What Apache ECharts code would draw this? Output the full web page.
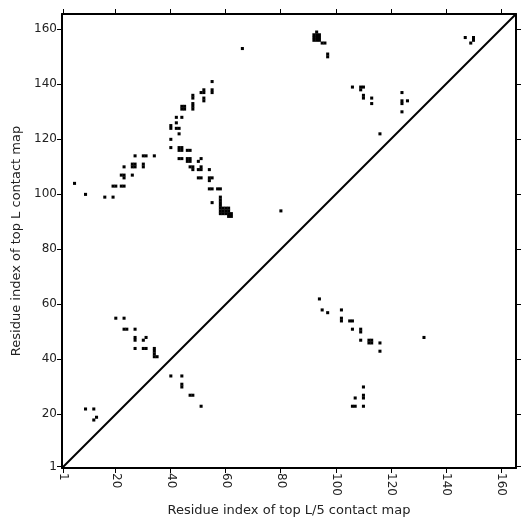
<!DOCTYPE html>
<html>
<head>
<meta charset="utf-8">
<script src="https://cdn.jsdelivr.net/npm/echarts@6/dist/echarts.min.js"></script>
<style>
  html, body { margin: 0; padding: 0; background: #fff; }
  #chart { width: 531px; height: 531px; }
</style>
</head>
<body>
<div id="chart"></div>
<script>
// residue range of the map (L = 165)
const resMin = 0.5;
const resMax = 165.5;
const tickValues = [1, 20, 40, 60, 80, 100, 120, 140, 160];

// upper-left triangle: top L predicted contacts [i, j]
const topL = [
  [5, 104], [9, 100], [16, 99], [19, 99],
  [19, 103], [20, 103], [22, 103], [23, 103],
  [22, 107], [23, 107], [23, 106], [26, 107],
  [23, 110], [26, 110], [27, 110], [26, 111], [27, 111], [30, 110], [30, 111],
  [27, 114], [30, 114], [31, 114], [34, 114],
  [40, 117], [40, 120], [40, 124], [40, 125],
  [42, 124], [43, 124], [43, 122], [42, 126], [42, 128], [44, 128],
  [44, 131], [44, 132], [45, 131], [45, 132],
  [48, 131], [48, 132], [48, 133], [48, 135], [48, 136],
  [52, 134], [52, 135], [51, 137], [52, 137], [52, 138],
  [55, 137], [55, 138], [55, 141],
  [43, 116], [44, 116], [43, 117], [44, 117], [46, 116], [47, 116],
  [43, 113], [44, 113], [46, 112], [47, 112], [46, 113], [47, 113], [50, 112], [51, 113],
  [47, 110], [48, 110], [48, 109], [50, 109], [51, 109], [51, 110], [54, 109],
  [50, 106], [51, 106], [54, 106], [55, 106], [54, 105],
  [54, 102], [55, 102], [57, 102], [58, 102],
  [55, 97], [58, 96], [58, 97], [58, 98], [58, 99],
  [58, 93], [58, 94], [58, 95], [59, 93], [59, 94], [59, 95],
  [60, 93], [60, 94], [60, 95], [61, 93], [61, 94], [61, 95],
  [61, 92], [62, 92], [62, 93],
  [66, 153], [80, 94],
  [92, 156], [93, 156], [94, 156], [92, 157], [93, 157], [94, 157],
  [92, 158], [93, 158], [94, 158], [93, 159],
  [95, 155], [96, 155], [97, 150], [97, 151],
  [106, 139], [109, 139], [110, 139], [109, 138], [110, 135], [110, 136],
  [113, 135], [113, 133], [116, 122],
  [124, 137], [124, 133], [124, 134], [126, 134], [124, 130],
  [147, 157], [149, 155], [150, 156], [150, 157]
];

// lower-right triangle: top L/5 predicted contacts [i, j]
const topL5 = [
  [9, 22], [12, 22], [13, 19], [12, 18],
  [20, 55], [23, 55], [23, 51], [24, 51], [27, 51],
  [27, 47], [27, 48], [30, 47], [31, 48],
  [27, 44], [30, 44], [31, 44],
  [34, 41], [34, 42], [34, 43], [34, 44], [35, 41],
  [40, 34], [44, 34], [44, 30], [44, 31],
  [47, 27], [48, 27], [51, 23],
  [94, 62], [95, 58], [97, 57], [102, 58], [102, 54], [102, 55],
  [105, 54], [106, 54], [106, 51], [109, 50], [109, 51], [109, 47],
  [112, 46], [113, 46], [112, 47], [113, 47], [116, 46], [116, 43],
  [132, 48],
  [110, 30], [107, 26], [110, 26], [110, 27], [106, 23], [107, 23], [110, 23]
];

const chart = echarts.init(document.getElementById('chart'));

// one filled cell per residue pair
const renderCell = (params, api) => {
  const p = api.coord([api.value(0) - 0.5, api.value(1) + 0.5]);
  const s = api.size([1, 1]);
  return {
    type: 'rect',
    shape: { x: p[0], y: p[1], width: s[0] + 0.3, height: s[1] + 0.3 },
    style: { fill: '#000' }
  };
};

const textFont = { fontFamily: 'DejaVu Sans', fontSize: 12, color: '#222' };
const spine = { show: true, onZero: false, lineStyle: { color: '#000', width: 2 } };
const tick = { show: true, inside: false, length: 5, lineStyle: { color: '#000', width: 1 }, customValues: tickValues };

const option = {
  animation: false,
  backgroundColor: '#fff',
  grid: { left: 62, top: 14, width: 454, height: 454 },
  xAxis: [
    {
      type: 'value', min: resMin, max: resMax, position: 'bottom',
      name: 'Residue index of top L/5 contact map', nameLocation: 'middle', nameGap: 36,
      nameTextStyle: { fontFamily: 'DejaVu Sans', fontSize: 13, color: '#222' },
      axisLine: spine, axisTick: tick, splitLine: { show: false },
      axisLabel: Object.assign({ rotate: -90, margin: 5, customValues: tickValues }, textFont)
    },
    {
      type: 'value', min: resMin, max: resMax, position: 'top',
      axisLine: spine, axisTick: tick, splitLine: { show: false }, axisLabel: { show: false }
    }
  ],
  yAxis: [
    {
      type: 'value', min: resMin, max: resMax, position: 'left',
      name: 'Residue index of top L contact map', nameLocation: 'middle', nameGap: 31,
      nameTextStyle: { fontFamily: 'DejaVu Sans', fontSize: 13, color: '#222' },
      axisLine: spine, axisTick: tick, splitLine: { show: false },
      axisLabel: Object.assign({ margin: 5, customValues: tickValues }, textFont)
    },
    {
      type: 'value', min: resMin, max: resMax, position: 'right',
      axisLine: spine, axisTick: tick, splitLine: { show: false }, axisLabel: { show: false }
    }
  ],
  series: [
    { type: 'custom', name: 'top L', renderItem: renderCell, data: topL, xAxisIndex: 0, yAxisIndex: 0, silent: true },
    { type: 'custom', name: 'top L/5', renderItem: renderCell, data: topL5, xAxisIndex: 0, yAxisIndex: 0, silent: true },
    {
      type: 'line', data: [[resMin, resMin], [resMax, resMax]], xAxisIndex: 0, yAxisIndex: 0,
      symbol: 'none', silent: true, lineStyle: { color: '#000', width: 2 }
    }
  ]
};

chart.setOption(option);
</script>
</body>
</html>
